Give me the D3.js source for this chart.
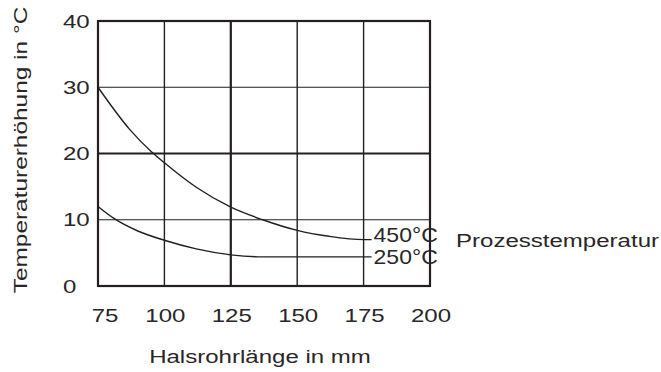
<!DOCTYPE html>
<html>
<head>
<meta charset="utf-8">
<script src="https://cdn.jsdelivr.net/npm/d3@7"></script>
<style>
  html, body { margin: 0; padding: 0; background: #fff; }
  svg text { font-family: 'Liberation Sans', Arial, sans-serif; fill: #2a2627; }
</style>
</head>
<body>
<svg id="chart" width="661" height="372"></svg>
<script>
// tick values
const xTicks = [75, 100, 125, 150, 175, 200];
const yTicks = [0, 10, 20, 30, 40];

// curve for 450°C process temperature
const len450 = [75, 87, 95, 100, 112, 125, 137, 150, 162, 175, 178];
const rise450 = [30, 23.6, 20.3, 18.6, 14.9, 11.9, 10, 8.4, 7.5, 7.0, 7.0];

// curve for 250°C process temperature
const len250 = [75, 81, 90, 100, 112, 125, 137, 150, 165, 178];
const rise250 = [12, 10.2, 8.3, 6.9, 5.6, 4.7, 4.4, 4.4, 4.4, 4.4];

const curveLabels = ['450°C', '250°C'];

const margin = { top: 21, right: 231, bottom: 86, left: 98 };
const width = 661 - margin.left - margin.right;
const height = 372 - margin.top - margin.bottom;

const svg = d3.select('#chart');
const g = svg.append('g')
    .attr('transform', `translate(${margin.left},${margin.top})`);

const x = d3.scaleLinear().domain([75, 200]).range([0, width]);
const y = d3.scaleLinear().domain([0, 40]).range([height, 0]);

const ink = '#231f20';
// the source font is set wider than Liberation Sans
const stretch = 1.3;
// heavier lines in the grid
const heavyX = [125];
const heavyY = [20];

// vertical grid
g.append('g')
    .selectAll('line')
    .data(xTicks.slice(1, -1))
    .enter()
    .append('line')
        .attr('x1', d => x(d))
        .attr('x2', d => x(d))
        .attr('y1', 0)
        .attr('y2', height)
        .attr('stroke', ink)
        .attr('stroke-width', d => heavyX.includes(d) ? 2.2 : 1.4);

// horizontal grid
g.append('g')
    .selectAll('line')
    .data(yTicks.slice(1, -1))
    .enter()
    .append('line')
        .attr('x1', 0)
        .attr('x2', width)
        .attr('y1', d => y(d))
        .attr('y2', d => y(d))
        .attr('stroke', ink)
        .attr('stroke-width', d => heavyY.includes(d) ? 2.2 : 1.2);

// frame
g.append('rect')
    .attr('x', 0)
    .attr('y', 0)
    .attr('width', width)
    .attr('height', height)
    .attr('fill', 'none')
    .attr('stroke', ink)
    .attr('stroke-width', 2.2);

// y tick labels
g.append('g')
    .selectAll('text')
    .data(yTicks)
    .enter()
    .append('text')
        .attr('transform', d => `translate(-35,${y(d)}) scale(${stretch},1)`)
        .attr('dy', '0.36em')
        .style('font-size', '18.5px')
        .text(d => d);

// x tick labels
g.append('g')
    .selectAll('text')
    .data(xTicks)
    .enter()
    .append('text')
        .attr('transform', (d, i) => `translate(${x(d) + (i === 0 ? 7 : 1)},${height + 36}) scale(${stretch},1)`)
        .attr('text-anchor', 'middle')
        .style('font-size', '18.5px')
        .text(d => d);

const line = d3.line()
    .x(d => x(d[0]))
    .y(d => y(d[1]))
    .curve(d3.curveMonotoneX);

const series = [
    d3.zip(len450, rise450),
    d3.zip(len250, rise250)
];

g.append('g')
    .selectAll('path')
    .data(series)
    .enter()
    .append('path')
        .attr('d', line)
        .attr('fill', 'none')
        .attr('stroke', ink)
        .attr('stroke-width', 1.4);

// curve labels at line ends
g.append('g')
    .selectAll('text')
    .data(series)
    .enter()
    .append('text')
        .attr('transform', d => `translate(${x(d[d.length - 1][0]) + 2},${y(d[d.length - 1][1])}) scale(1.15,1)`)
        .attr('dy', (d, i) => i === 0 ? '0.12em' : '0.36em')
        .style('font-size', '20px')
        .text((d, i) => curveLabels[i]);

g.append('text')
    .attr('transform', `translate(358,226) scale(${stretch},1)`)
    .style('font-size', '18.5px')
    .text('Prozesstemperatur');

// axis titles
g.append('text')
    .attr('transform', `translate(${width / 2 - 4},${height + 77}) scale(${stretch},1)`)
    .attr('text-anchor', 'middle')
    .style('font-size', '18.5px')
    .text('Halsrohrlänge in mm');

g.append('text')
    .attr('transform', `translate(-71,129) rotate(-90) scale(${stretch + 0.02},1)`)
    .attr('text-anchor', 'middle')
    .style('font-size', '18.5px')
    .text('Temperaturerhöhung in °C');
</script>
</body>
</html>
